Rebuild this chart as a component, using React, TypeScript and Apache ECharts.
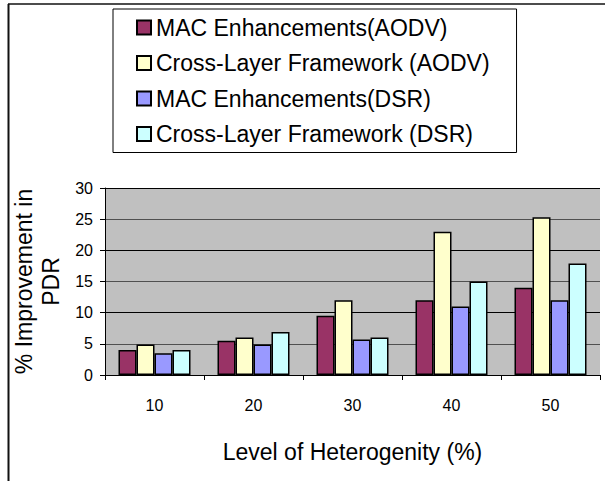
import React, { useEffect, useRef } from "react";
import * as echarts from "echarts";

const categories = ["10", "20", "30", "40", "50"];
const macAodv = [4, 5.5, 9.5, 12, 14];
const crossAodv = [4.9, 6, 12, 23, 25.3];
const macDsr = [3.5, 4.9, 5.7, 11, 12];
const crossDsr = [4, 6.9, 6, 15, 17.9];
const seriesNames = [
  "MAC Enhancements(AODV)",
  "Cross-Layer Framework (AODV)",
  "MAC Enhancements(DSR)",
  "Cross-Layer Framework (DSR)",
];
const seriesColors = ["#993366", "#FFFFCC", "#9999FF", "#CCFFFF"];
const yTicks = { min: 0, max: 30, interval: 5 };

const FONT = "'Liberation Sans', Arial, sans-serif";

export default function App() {
  const ref = useRef<HTMLDivElement>(null);
  useEffect(() => {
    if (!ref.current) return;
    const chart = echarts.init(ref.current, null, { renderer: "svg" });
    const values = [macAodv, crossAodv, macDsr, crossDsr];
    chart.setOption({
      animation: false,
      backgroundColor: "#ffffff",
      textStyle: { fontFamily: FONT, color: "#000" },
      graphic: [
        {
          type: "line",
          shape: { x1: 8, y1: 4, x2: 605, y2: 4 },
          style: { stroke: "#111", lineWidth: 1.5 },
        },
        {
          type: "line",
          shape: { x1: 8.5, y1: 4, x2: 8.5, y2: 481 },
          style: { stroke: "#111", lineWidth: 2 },
        },
      ],
      legend: {
        orient: "vertical",
        left: 113,
        top: 9,
        padding: [7, 27, 7, 23],
        itemGap: 12.5,
        itemWidth: 14,
        itemHeight: 14,
        borderColor: "#000",
        borderWidth: 1,
        icon: "rect",
        textStyle: { fontFamily: FONT, fontSize: 23, color: "#000" },
        data: seriesNames,
      },
      grid: {
        left: 105,
        right: 5,
        top: 188,
        bottom: 106,
        show: true,
        backgroundColor: "#c0c0c0",
        borderWidth: 0,
      },
      xAxis: {
        type: "category",
        data: categories,
        boundaryGap: true,
        name: "Level of Heterogenity (%)",
        nameLocation: "middle",
        nameGap: 65,
        nameTextStyle: { fontFamily: FONT, fontSize: 23, color: "#000" },
        axisLine: { lineStyle: { color: "#000", width: 1 } },
        axisTick: { show: true, length: 5, lineStyle: { color: "#000" } },
        axisLabel: { fontFamily: FONT, fontSize: 16, color: "#000", margin: 22 },
      },
      yAxis: {
        type: "value",
        min: yTicks.min,
        max: yTicks.max,
        interval: yTicks.interval,
        name: "% Improvement in\nPDR",
        nameLocation: "middle",
        nameGap: 33,
        nameTextStyle: { fontFamily: FONT, fontSize: 23, color: "#000", lineHeight: 27 },
        axisLine: { show: true, lineStyle: { color: "#000", width: 1 } },
        axisTick: { show: true, length: 5, lineStyle: { color: "#000" } },
        axisLabel: { fontFamily: FONT, fontSize: 16, color: "#000", margin: 12 },
        splitLine: { show: true, lineStyle: { color: ["#000", "#505050"], width: 1 } },
      },
      series: seriesNames.map((name, i) => ({
        name,
        type: "bar",
        data: values[i],
        barWidth: 18,
        barGap: "0%",
        itemStyle: { color: seriesColors[i], borderColor: "#000", borderWidth: 1.5 },
      })),
    });
    return () => chart.dispose();
  }, []);
  return (
    <div
      ref={ref}
      style={{ position: "fixed", left: 0, top: 0, width: 605, height: 481 }}
    />
  );
}
